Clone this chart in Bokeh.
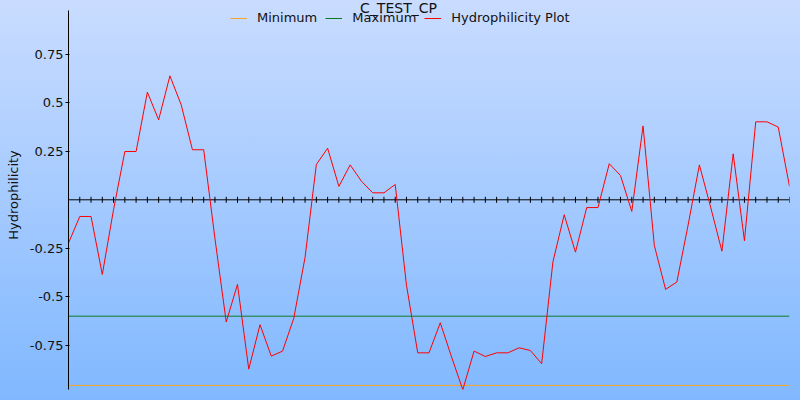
import math
from bokeh.plotting import figure
from bokeh.models import (Range1d, Span, Legend, LegendItem, Label, FixedTicker,
                          CustomJSTickFormatter, GlobalInlineStyleSheet)
from bokeh.embed import file_html
from bokeh.resources import INLINE

# ---- data ----
title_text = "C_TEST_CP"
y_label = "Hydrophilicity"
series_names = ["Minimum", "Maximum", "Hydrophilicity Plot"]

hydro = [
    -0.223, -0.086, -0.086, -0.385, -0.05, 0.249, 0.249, 0.555, 0.412, 0.639,
    0.49, 0.258, 0.258, -0.2, -0.63, -0.436, -0.873, -0.644, -0.806, -0.78,
    -0.61, -0.296, 0.182, 0.266, 0.069, 0.18, 0.096, 0.036, 0.036, 0.079,
    -0.44, -0.789, -0.789, -0.634, -0.81, -0.979, -0.78, -0.808, -0.789, -0.789,
    -0.763, -0.777, -0.845, -0.32, -0.077, -0.27, -0.04, -0.04, 0.186, 0.125,
    -0.06, 0.381, -0.235, -0.462, -0.424, -0.13, 0.18, -0.038, -0.265, 0.237,
    -0.211, 0.402, 0.402, 0.375, 0.069,
]
positions = list(range(len(hydro)))
minimum_value = -0.957
maximum_value = -0.6
y_ticks = [0.75, 0.5, 0.25, -0.25, -0.5, -0.75]
axis_start, axis_end = -0.978, 0.976   # extent of the drawn y axis
view_end = 1.0275                      # top of the plotting area (room for title)

FONT = "DejaVu Sans"

p = figure(width=800, height=400, output_backend="svg", toolbar_location=None,
           x_range=Range1d(positions[0], positions[-1]),
           y_range=Range1d(axis_start, view_end),
           x_axis_location=None,
           min_border_left=68, min_border_right=11, min_border_top=0, min_border_bottom=11)

p.stylesheets = [GlobalInlineStyleSheet(css="html, body { margin: 0; padding: 0; overflow: hidden; }")]
p.styles = {"background": "linear-gradient(to bottom, #C9DCFF 0%, #80B8FF 100%)"}
p.background_fill_alpha = 0
p.border_fill_alpha = 0
p.outline_line_color = None
p.grid.visible = False

# zero axis line
p.add_layout(Span(location=0, dimension="width", line_color="black", line_width=1, level="underlay"))

# series
r_min = p.line([positions[0], positions[-1]], [minimum_value, minimum_value],
               line_color="#F5A623", line_width=1)
r_max = p.line([positions[0], positions[-1]], [maximum_value, maximum_value],
               line_color="#0B7A2A", line_width=1)
r_hyd = p.line(positions, hydro, line_color="#FF0000", line_width=1)

# tick marks on the zero axis
p.scatter(positions, [0] * len(positions), marker="dash", angle=math.pi / 2,
          size=6, line_color="black", line_width=1)

# y axis
ax = p.yaxis[0]
ax.bounds = (axis_start, axis_end)
ax.ticker = FixedTicker(ticks=y_ticks)
ax.formatter = CustomJSTickFormatter(code="return tick.toString()")
ax.minor_tick_line_color = None
ax.major_tick_out = 3
ax.major_tick_in = 1
ax.major_label_standoff = 2
ax.axis_line_color = "black"
ax.major_tick_line_color = "black"
ax.major_label_text_font = FONT
ax.major_label_text_font_size = "13px"
ax.major_label_text_color = "#111111"
ax.axis_label = y_label
ax.axis_label_text_font = FONT
ax.axis_label_text_font_size = "13px"
ax.axis_label_text_font_style = "normal"
ax.axis_label_text_color = "#111111"
ax.axis_label_standoff = 6

# legend
legend = Legend(items=[LegendItem(label=series_names[0], renderers=[r_min]),
                       LegendItem(label=series_names[1], renderers=[r_max]),
                       LegendItem(label=series_names[2], renderers=[r_hyd])],
                orientation="horizontal", location=(162, 364),
                padding=0, margin=0, spacing=8, label_standoff=10,
                glyph_width=17, glyph_height=14, label_height=14,
                label_text_font=FONT, label_text_font_size="13px",
                label_text_color="#111111",
                background_fill_alpha=0, border_line_alpha=0)
p.add_layout(legend, "center")

# title
p.add_layout(Label(x=330, y=382, x_units="screen", y_units="screen", text=title_text,
                   text_align="center", text_baseline="middle",
                   text_font=FONT, text_font_size="14px", text_color="#111111"))

open("out.html", "w").write(file_html(p, INLINE))
